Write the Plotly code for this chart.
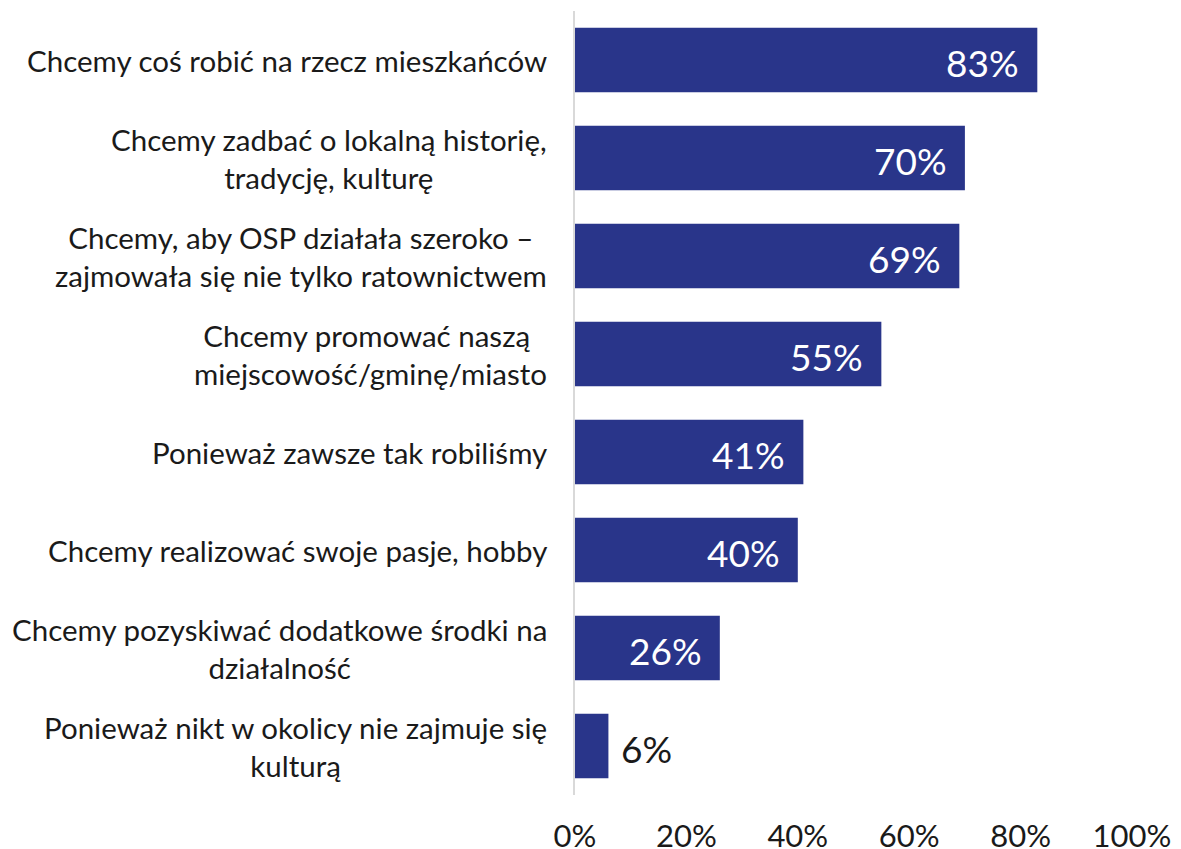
import plotly.graph_objects as go

categories = [
    "Chcemy coś robić na rzecz mieszkańców",
    "Chcemy zadbać o lokalną historię,<br>tradycję, kulturę",
    "Chcemy, aby OSP działała szeroko –<br>zajmowała się nie tylko ratownictwem",
    "Chcemy promować naszą\u00a0<br>miejscowość/gminę/miasto",
    "Ponieważ zawsze tak robiliśmy",
    "Chcemy realizować swoje pasje, hobby",
    "Chcemy pozyskiwać dodatkowe środki na<br>działalność",
    "Ponieważ nikt w okolicy nie zajmuje się<br>kulturą",
]
values = [83, 70, 69, 55, 41, 40, 26, 6]
tick_vals = [0, 20, 40, 60, 80, 100]

bar_color = "#29358A"
font_family = "Lato, 'Open Sans', sans-serif"

fig = go.Figure()
fig.add_trace(go.Bar(
    x=values,
    y=list(range(len(categories))),
    orientation="h",
    marker=dict(color=bar_color, line=dict(width=0)),
    hoverinfo="skip",
))

annotations = []
for i, (cat, v) in enumerate(zip(categories, values)):
    # category label, centred lines, right aligned block
    annotations.append(dict(
        x=0, xref="paper", y=i, yref="y",
        text=cat, showarrow=False,
        xanchor="right", yanchor="middle", align="center",
        xshift=-26,
        font=dict(family=font_family, size=29.5, color="#1a1a1a"),
    ))
    # value label
    inside = v > 15
    annotations.append(dict(
        x=v, xref="x", y=i, yref="y",
        text=f"{v}%", showarrow=False,
        xanchor="right" if inside else "left", yanchor="middle",
        xshift=-16 if inside else 11, yshift=-2,
        font=dict(family=font_family, size=37,
                  color="white" if inside else "#1a1a1a"),
    ))

fig.update_layout(
    width=1181, height=849,
    margin=dict(l=575, r=49, t=11, b=54),
    paper_bgcolor="white", plot_bgcolor="white",
    bargap=0.34,
    showlegend=False,
    font=dict(family=font_family, color="#1a1a1a"),
    annotations=annotations,
    xaxis=dict(
        range=[0, 100],
        tickvals=tick_vals,
        ticktext=[f"{t}%" for t in tick_vals],
        showgrid=False, zeroline=False, showline=False,
        ticks="", ticklabelstandoff=20,
        tickfont=dict(family=font_family, size=31, color="#1a1a1a"),
        automargin=False,
        fixedrange=True,
    ),
    yaxis=dict(
        range=[len(categories) - 0.5, -0.5],
        showticklabels=False,
        showgrid=False, zeroline=False,
        showline=True, linecolor="#d9d9d9", linewidth=2,
        ticks="",
        automargin=False,
        fixedrange=True,
    ),
)

fig.write_html("out.html", config={"displayModeBar": False},
               post_script="document.body.style.margin='0';")
